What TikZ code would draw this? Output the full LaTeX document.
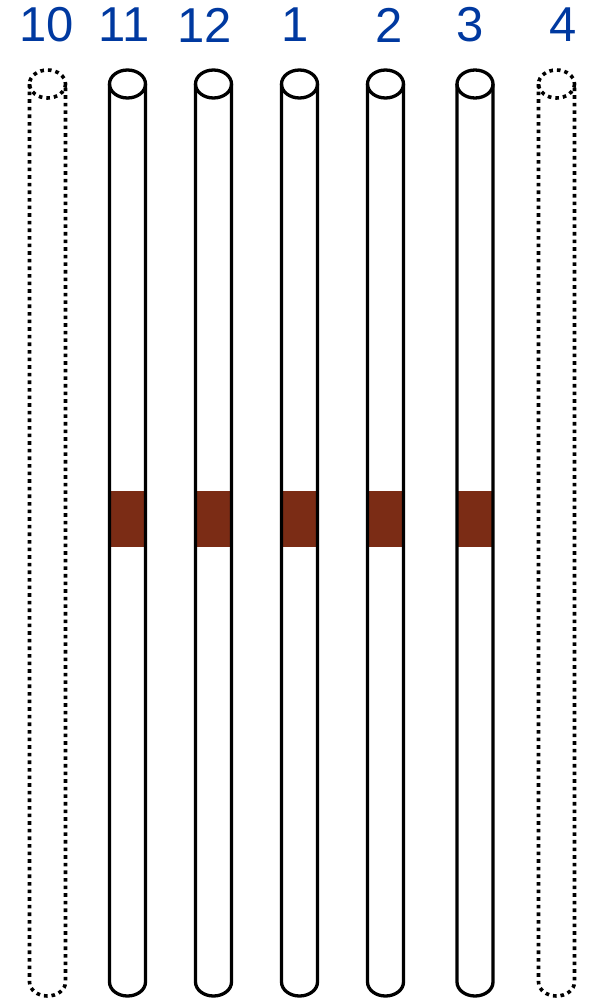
\documentclass[tikz,border=0pt]{standalone}
\usepackage{fontspec}
\setmainfont{Liberation Sans}
\definecolor{labelblue}{RGB}{0,57,160}
\definecolor{bandbrown}{RGB}{123,44,21}
\begin{document}
\begin{tikzpicture}[
        x=1pt, y=-1pt,
        tube/.style={line width=3.3pt, black, line join=round},
        ghost/.style={tube, line width=3.6pt, dash pattern=on 3.6pt off 4pt},
        band/.style={fill=bandbrown},
        num/.style={text=labelblue, font=\fontsize{49}{50}\selectfont, inner sep=0pt}
    ]
        \path[use as bounding box] (0, 0) rectangle (590, 998);

        % brown bands on the solid tubes
        \foreach \cx in {127.5, 213.5, 299.5, 385.5, 475}
            \fill[band] (\cx-17, 491) rectangle (\cx+17, 547);

        % tubes and their numbers
        \foreach \cx/\lx/\txt/\sty in {47.5/47/10/ghost, 127.5/124/11/tube, 213.5/205/12/tube,
                299.5/295/1/tube, 385.5/389/2/tube, 475/470/3/tube, 556.5/563/4/ghost} {
            \node[num] (lab\txt) at (\lx, 25) {\txt};
            \draw[\sty] (\cx-18, 84) -- (\cx-18, 982)
                arc[start angle=180, end angle=0, x radius=18, y radius=14] -- (\cx+18, 84);
            \draw[\sty] (\cx, 84) ellipse[x radius=18, y radius=14];
        }
    \end{tikzpicture}
\end{document}
